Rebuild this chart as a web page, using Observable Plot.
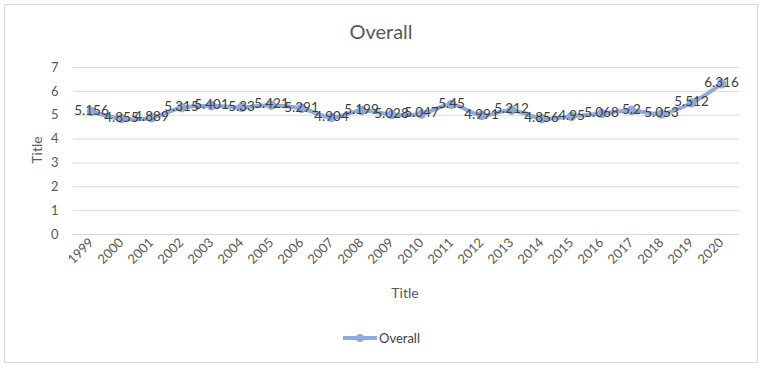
<!DOCTYPE html>
<html>
<head>
<meta charset="utf-8">
<script src="https://cdn.jsdelivr.net/npm/d3@7"></script>
<script src="https://cdn.jsdelivr.net/npm/@observablehq/plot@0.6"></script>
<style>
  html, body { margin: 0; padding: 0; background: #fff; }
  svg { display: block; }
</style>
</head>
<body>
<div id="chart"></div>
<script>
const years = ["1999","2000","2001","2002","2003","2004","2005","2006","2007","2008","2009","2010","2011","2012","2013","2014","2015","2016","2017","2018","2019","2020"];
const overall = [5.156,4.855,4.889,5.315,5.401,5.33,5.421,5.291,4.904,5.199,5.028,5.047,5.45,4.991,5.212,4.856,4.95,5.068,5.2,5.053,5.512,6.316];
const yTicks = [0,1,2,3,4,5,6,7];
const seriesName = "Overall";
const chartTitle = "Overall";
const axisTitle = "Title";

const data = years.map((y, i) => ({year: y, value: overall[i]}));
const lineColor = "#8faadc";
const font = "Lato, 'Liberation Sans', sans-serif";

const plot = Plot.plot({
  width: 762,
  height: 368,
  marginLeft: 73,
  marginRight: 23,
  marginTop: 67,
  marginBottom: 134,
  style: {fontFamily: font, fontSize: "12px", color: "#595959", background: "#fff"},
  x: {type: "band", domain: years, padding: 0, label: null},
  y: {domain: [0, 7], ticks: yTicks, label: null},
  marks: [
    Plot.gridY(yTicks, {stroke: "#d9d9d9", strokeOpacity: 1}),
    Plot.axisY(yTicks, {tickSize: 0, tickPadding: 15, fontSize: 13, fill: "#595959", tickFormat: d => String(d)}),
    Plot.axisX({tickSize: 0, tickRotate: -45, tickPadding: 6, fontSize: 13, fill: "#595959"}),
    Plot.line(data, {x: "year", y: "value", stroke: lineColor, strokeWidth: 4, curve: "catmull-rom"}),
    Plot.dot(data, {x: "year", y: "value", r: 4, fill: lineColor, stroke: lineColor}),
    Plot.text(data, {x: "year", y: "value", text: d => String(d.value), fill: "#404040", fontSize: 13.5, dy: -1})
  ]
});

const svg = d3.select(plot);
svg.insert("rect", ":first-child")
  .attr("x", 4.5).attr("y", 4.5).attr("width", 753).attr("height", 358)
  .attr("fill", "#fff").attr("stroke", "#d9d9d9");
svg.append("text").attr("x", 381).attr("y", 39).attr("text-anchor", "middle")
  .attr("font-size", 20).attr("fill", "#595959").attr("font-family", font).text(chartTitle);
svg.append("text").attr("transform", "translate(42,150) rotate(-90)").attr("text-anchor", "middle")
  .attr("font-size", 14).attr("fill", "#595959").attr("font-family", font).text(axisTitle);
svg.append("text").attr("x", 405).attr("y", 298).attr("text-anchor", "middle")
  .attr("font-size", 14).attr("fill", "#595959").attr("font-family", font).text(axisTitle);
const lg = svg.append("g");
lg.append("line").attr("x1", 343).attr("x2", 377).attr("y1", 338).attr("y2", 338)
  .attr("stroke", lineColor).attr("stroke-width", 4);
lg.append("circle").attr("cx", 360).attr("cy", 338).attr("r", 4).attr("fill", lineColor);
lg.append("text").attr("x", 379).attr("y", 342.5).attr("text-anchor", "start").attr("font-size", 13).attr("fill", "#404040")
  .attr("font-family", font).text(seriesName);

document.getElementById("chart").appendChild(plot);
</script>
</body>
</html>
